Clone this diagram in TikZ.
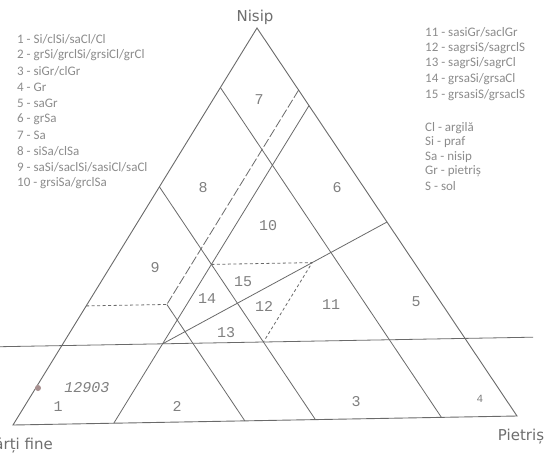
\documentclass[tikz,border=0pt]{standalone}
\usepackage{fontspec}
\setmainfont{Carlito}
\newfontfamily\numfont{Liberation Mono}
\newfontfamily\labfont{DejaVu Sans}
\definecolor{ln}{HTML}{6A6A6A}
\definecolor{numc}{HTML}{808080}
\definecolor{legc}{HTML}{8C8C8C}
\definecolor{labc}{HTML}{6E6E6E}
\definecolor{dotc}{HTML}{A89090}
\tikzset{
  bound/.style={draw=ln, line width=0.9pt},
  div/.style={draw=ln, line width=0.8pt},
  dotdiv/.style={draw=ln, line width=0.8pt, dash pattern=on 3pt off 2.5pt},
  longdiv/.style={draw=ln, line width=0.8pt, dash pattern=on 9pt off 2.5pt},
  regnum/.style={text=numc, font=\numfont\fontsize{15}{15}\selectfont, inner sep=0pt},
  legend/.style={text=legc, font=\fontsize{13}{13}\selectfont, anchor=west, inner sep=0pt},
  axislab/.style={text=labc, font=\labfont\fontsize{15}{15}\selectfont, inner sep=0pt}
}
\begin{document}
\begin{tikzpicture}[x=1pt,y=-1pt]
\useasboundingbox (0,0) rectangle (551,461);
\fill[white] (0,0) rectangle (551,461);

% ternary frame: g = gravel fraction, a = sand fraction
\begin{scope}[shift={(13,425)}, x={(504pt,9pt)}, y={(244pt,397pt)}]
  \coordinate (F) at (0,0);
  \coordinate (G) at (1,0);
  \coordinate (A) at (0,1);
  % constant sand 20% (extended)
  \draw[div] (-0.123,0.2) -- (0.935,0.2);
  % constant fines lines
  \draw[div] (0,0.85) -- (0.85,0);
  \draw[div] (0,0.6) -- (0.6,0);
  \draw[div] (0.16,0.30) -- (0.46,0);
  % constant gravel lines
  \draw[div] (0.2,0.8) -- (0.2,0);
  \draw[longdiv] (0.16,0.84) -- (0.16,0.30);
  % dashed boundaries
  \draw[dotdiv] (0,0.3) -- (0.16,0.3);
  \draw[dotdiv] (0.2,0.4) -- (0.4,0.4) -- (0.4,0.2);
  % sand = gravel diagonal
  \draw[div] (0.2,0.2) -- (0.5,0.5);
  % outline
  \draw[bound] (F) -- (G) -- (A) -- cycle;
\end{scope}

% axis labels
\node[axislab] (nisip) at (255,17) {Nisip};
\node[axislab, anchor=east] (fine) at (53,446) {Părți fine};
\node[axislab] (pietris) at (521,437) {Pietriș};

% region numbers
\node[regnum] (r1) at (58,407) {1};
\node[regnum] (r2) at (177,406) {2};
\node[regnum] (r3) at (356,402) {3};
\node[regnum, font=\numfont\fontsize{11}{11}\selectfont] (r4) at (480,399) {4};
\node[regnum] (r5) at (416,302) {5};
\node[regnum] (r6) at (337,188) {6};
\node[regnum] (r7) at (259,100) {7};
\node[regnum] (r8) at (203,188) {8};
\node[regnum] (r9) at (155,268) {9};
\node[regnum] (r10) at (268,226) {10};
\node[regnum] (r11) at (331,305) {11};
\node[regnum] (r12) at (264,306) {12};
\node[regnum] (r13) at (226,333) {13};
\node[regnum] (r14) at (207,299) {14};
\node[regnum] (r15) at (243,282) {15};

% sample point
\fill[dotc] (38,388) circle (3pt);
\node[regnum, font=\numfont\itshape\fontsize{15}{15}\selectfont] (sample) at (87,388) {12903};

% legend left
\node[legend] (l1) at (17,39) {1 - Si/clSi/saCl/Cl};
\node[legend] (l2) at (17,55) {2 - grSi/grclSi/grsiCl/grCl};
\node[legend] (l3) at (17,71) {3 - siGr/clGr};
\node[legend] (l4) at (17,87) {4 - Gr};
\node[legend] (l5) at (17,103) {5 - saGr};
\node[legend] (l6) at (17,119) {6 - grSa};
\node[legend] (l7) at (17,135) {7 - Sa};
\node[legend] (l8) at (17,151) {8 - siSa/clSa};
\node[legend] (l9) at (17,167) {9 - saSi/saclSi/sasiCl/saCl};
\node[legend] (l10) at (17,183) {10 - grsiSa/grclSa};

% legend right
\node[legend] (l11) at (425,32) {11 - sasiGr/saclGr};
\node[legend] (l12) at (425,48) {12 - sagrsiS/sagrclS};
\node[legend] (l13) at (425,63) {13 - sagrSi/sagrCl};
\node[legend] (l14) at (425,79) {14 - grsaSi/grsaCl};
\node[legend] (l15) at (425,95) {15 - grsasiS/grsaclS};
\node[legend] (k1) at (425,128) {Cl - argilă};
\node[legend] (k2) at (425,142.5) {Si - praf};
\node[legend] (k3) at (425,157) {Sa - nisip};
\node[legend] (k4) at (425,171.5) {Gr - pietriș};
\node[legend] (k5) at (425,186) {S - sol};
\end{tikzpicture}
\end{document}
